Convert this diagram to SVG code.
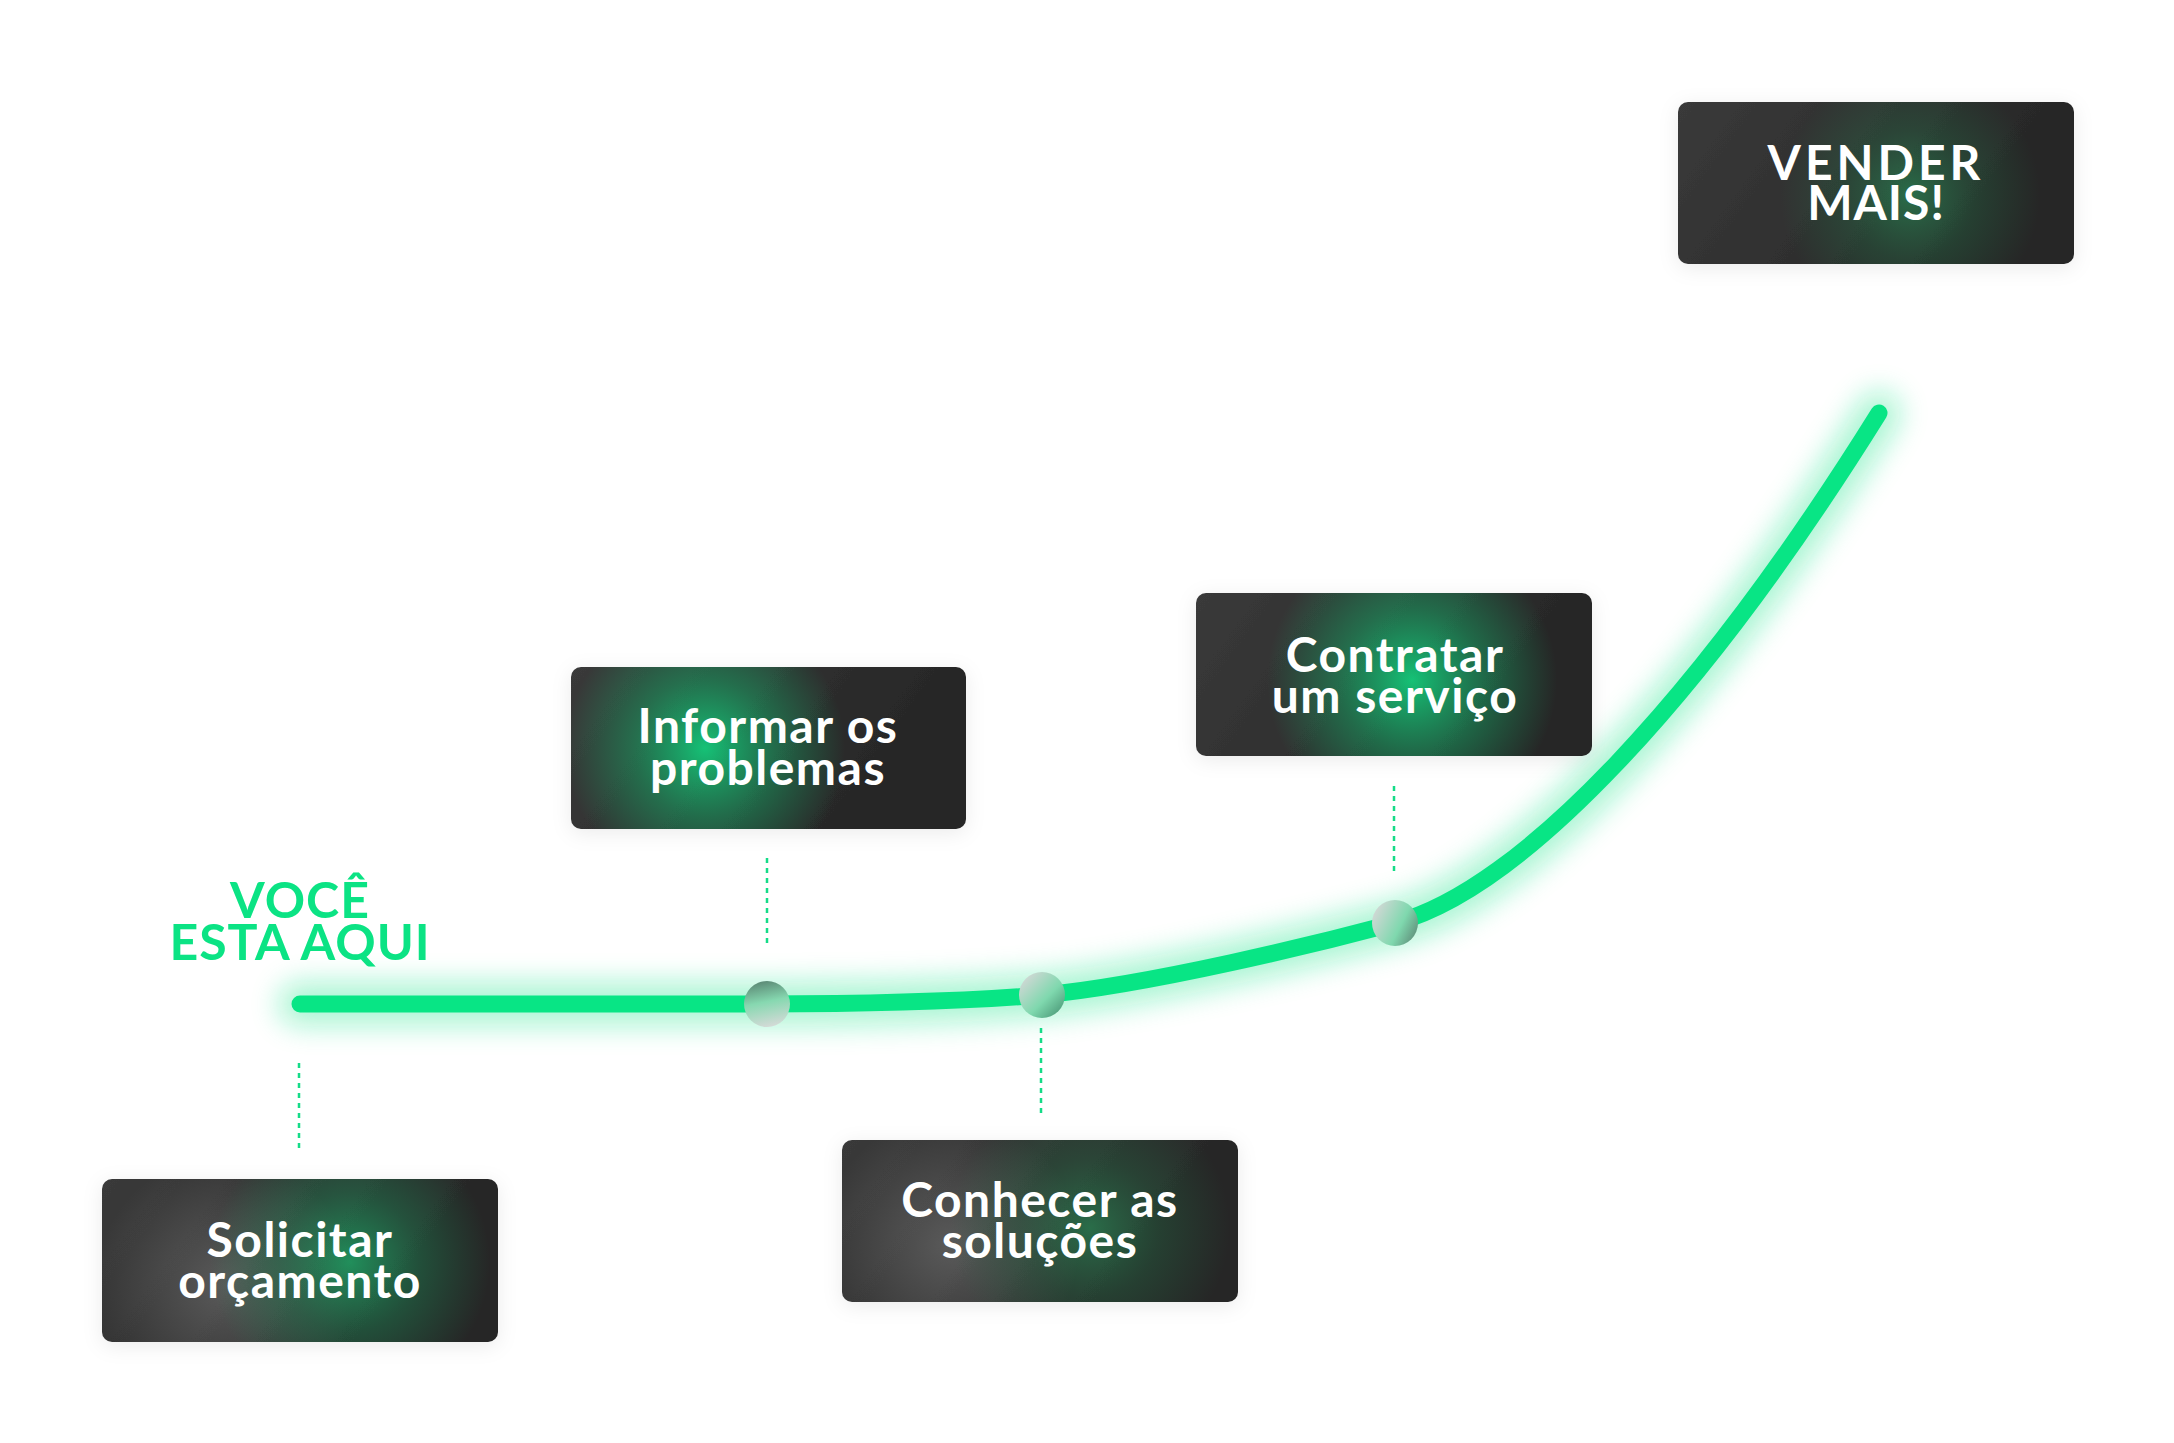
<svg xmlns="http://www.w3.org/2000/svg" width="2174" height="1443" viewBox="0 0 2174 1443">
<defs>
<style>
.box{fill:url(#base);filter:url(#shadow)}
.lbl{font-family:Lato,"Noto Sans","DejaVu Sans",sans-serif;font-weight:700;font-size:48px;fill:#ffffff;text-anchor:middle;letter-spacing:1.5px}
.here{font-family:Lato,"Noto Sans","DejaVu Sans",sans-serif;font-weight:700;font-size:50px;fill:#0be384;text-anchor:middle;letter-spacing:1px}
.dash{stroke:#14dc88;stroke-width:2.5;stroke-dasharray:5 5;fill:none}
</style>
<linearGradient id="base" x1="0" y1="0" x2="1" y2="0.3">
<stop offset="0" stop-color="#3a3a3a"/>
<stop offset="1" stop-color="#252525"/>
</linearGradient>
<radialGradient id="gBright" cx="0.5" cy="0.5" r="0.5">
<stop offset="0" stop-color="#14c97a" stop-opacity="0.95"/>
<stop offset="0.5" stop-color="#16a866" stop-opacity="0.5"/>
<stop offset="1" stop-color="#16a866" stop-opacity="0"/>
</radialGradient>
<radialGradient id="gMid" cx="0.5" cy="0.5" r="0.5">
<stop offset="0" stop-color="#1dba70" stop-opacity="0.7"/>
<stop offset="0.5" stop-color="#1a9a5e" stop-opacity="0.35"/>
<stop offset="1" stop-color="#1a9a5e" stop-opacity="0"/>
</radialGradient>
<radialGradient id="gDim" cx="0.5" cy="0.5" r="0.5">
<stop offset="0" stop-color="#2a9a5e" stop-opacity="0.6"/>
<stop offset="0.5" stop-color="#247a4c" stop-opacity="0.3"/>
<stop offset="1" stop-color="#247a4c" stop-opacity="0"/>
</radialGradient>
<radialGradient id="gGray" cx="0.5" cy="0.5" r="0.5">
<stop offset="0" stop-color="#8a8a8a" stop-opacity="0.45"/>
<stop offset="1" stop-color="#8a8a8a" stop-opacity="0"/>
</radialGradient>
<linearGradient id="dotA" x1="0.4" y1="0" x2="0.6" y2="1">
<stop offset="0" stop-color="#5c8a76"/>
<stop offset="0.45" stop-color="#86d8b0"/>
<stop offset="1" stop-color="#d6dad8"/>
</linearGradient>
<linearGradient id="dotB" x1="0.1" y1="0.1" x2="0.9" y2="0.9">
<stop offset="0" stop-color="#d3d8d6"/>
<stop offset="0.6" stop-color="#7fd8ae"/>
<stop offset="1" stop-color="#4f9e7c"/>
</linearGradient>
<linearGradient id="dotC" x1="0" y1="0.3" x2="1" y2="0.8">
<stop offset="0" stop-color="#d3d8d6"/>
<stop offset="0.6" stop-color="#7fd8ae"/>
<stop offset="1" stop-color="#5e8c78"/>
</linearGradient>
<filter id="shadow" x="-10%" y="-20%" width="120%" height="140%">
<feDropShadow dx="0" dy="4" stdDeviation="10" flood-color="#000" flood-opacity="0.08"/>
</filter>
<filter id="glow" x="-20%" y="-50%" width="140%" height="200%">
<feGaussianBlur stdDeviation="14"/>
</filter>
<clipPath id="cSol"><rect x="102" y="1179" width="396" height="163" rx="10"/></clipPath>
<clipPath id="cInf"><rect x="571" y="667" width="395" height="162" rx="10"/></clipPath>
<clipPath id="cCon"><rect x="842" y="1140" width="396" height="162" rx="10"/></clipPath>
<clipPath id="cCtr"><rect x="1196" y="593" width="396" height="163" rx="10"/></clipPath>
<clipPath id="cVen"><rect x="1678" y="102" width="396" height="162" rx="10"/></clipPath>
</defs>
<rect width="2174" height="1443" fill="#ffffff"/>

<g id="connectors">
<path id="curve-glow" d="M300,1004 L760,1004 C880,1004 970,1001 1042,995 C1150,985 1320,943 1395,923 C1520,890 1700,700 1879,413" fill="none" stroke="#0be384" stroke-width="44" stroke-linecap="round" opacity="0.35" filter="url(#glow)"/>
<path id="curve" d="M300,1004 L760,1004 C880,1004 970,1001 1042,995 C1150,985 1320,943 1395,923 C1520,890 1700,700 1879,413" fill="none" stroke="#08e585" stroke-width="17" stroke-linecap="round"/>
<line class="dash" x1="299" y1="1063" x2="299" y2="1150"/>
<line class="dash" x1="767" y1="858" x2="767" y2="944"/>
<line class="dash" x1="1041" y1="1028" x2="1041" y2="1114"/>
<line class="dash" x1="1394" y1="786" x2="1394" y2="872"/>
<circle cx="767" cy="1004" r="23" fill="url(#dotA)"/>
<circle cx="1042" cy="995" r="23" fill="url(#dotB)"/>
<circle cx="1395" cy="923" r="23" fill="url(#dotC)"/>
</g>

<g id="voce-esta-aqui">
<text class="here" x="300" y="918">VOCÊ</text>
<text class="here" x="300" y="960">ESTA AQUI</text>
</g>

<g id="node-solicitar">
<rect class="box" x="102" y="1179" width="396" height="163" rx="10"/>
<g clip-path="url(#cSol)">
<circle cx="225" cy="1285" r="130" fill="url(#gGray)"/>
<circle cx="350" cy="1262" r="140" fill="url(#gMid)"/>
</g>
<text class="lbl" x="300" y="1257">Solicitar</text>
<text class="lbl" x="300" y="1298">orçamento</text>
</g>

<g id="node-informar">
<rect class="box" x="571" y="667" width="395" height="162" rx="10"/>
<g clip-path="url(#cInf)">
<circle cx="705" cy="748" r="140" fill="url(#gBright)"/>
</g>
<text class="lbl" x="768" y="743">Informar os</text>
<text class="lbl" x="768" y="785">problemas</text>
</g>

<g id="node-conhecer">
<rect class="box" x="842" y="1140" width="396" height="162" rx="10"/>
<g clip-path="url(#cCon)">
<circle cx="950" cy="1245" r="130" fill="url(#gGray)"/>
<circle cx="1090" cy="1228" r="140" fill="url(#gDim)"/>
</g>
<text class="lbl" x="1040" y="1217">Conhecer as</text>
<text class="lbl" x="1040" y="1258">soluções</text>
</g>

<g id="node-contratar">
<rect class="box" x="1196" y="593" width="396" height="163" rx="10"/>
<g clip-path="url(#cCtr)">
<circle cx="1412" cy="680" r="145" fill="url(#gBright)"/>
</g>
<text class="lbl" x="1395" y="672">Contratar</text>
<text class="lbl" x="1395" y="713">um serviço</text>
</g>

<g id="node-vender">
<rect class="box" x="1678" y="102" width="396" height="162" rx="10"/>
<g clip-path="url(#cVen)">
<circle cx="1910" cy="195" r="130" fill="url(#gDim)"/>
</g>
<text class="lbl" x="1876" y="180" style="letter-spacing:4px">VENDER</text>
<text class="lbl" x="1876" y="220" style="letter-spacing:1px">MAIS!</text>
</g>
</svg>
